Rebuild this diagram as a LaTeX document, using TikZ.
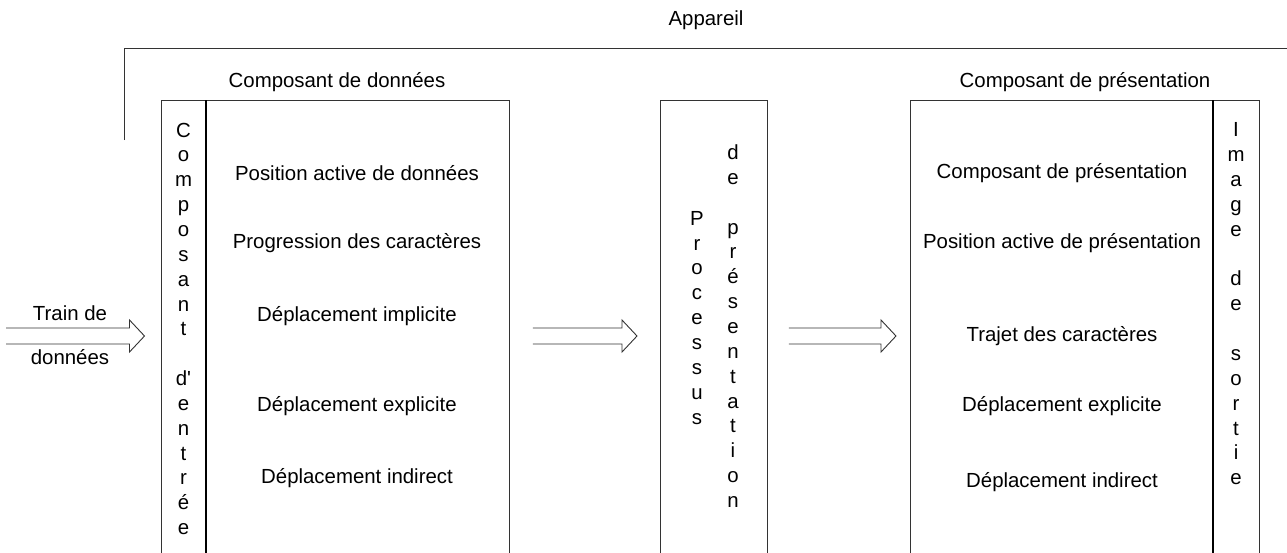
\documentclass[tikz,border=0pt]{standalone}
\usepackage{fontspec}
\setmainfont{Liberation Sans}
\usetikzlibrary{calc}

\tikzset{
  boite/.style={draw=black!80, line width=0.9pt, anchor=north west, inner sep=0pt},
  sep/.style={line width=1.6pt},
  txt/.style={font=\fontsize{20.4}{24.85}\selectfont, inner sep=0pt},
  vert/.style={txt, align=center, anchor=north},
  fleche/.style={draw=black!80, line width=0.9pt},
  hollow/.style={to path={
      ($(\tikztostart)+(0,-8)$) -- ($(\tikztotarget)+(-15,-8)$) -- ($(\tikztotarget)+(-15,-16)$)
      -- (\tikztotarget) -- ($(\tikztotarget)+(-15,16)$) -- ($(\tikztotarget)+(-15,8)$)
      -- ($(\tikztostart)+(0,8)$)}}
}

\begin{document}
\begin{tikzpicture}[x=1pt,y=-1pt]
	\path[use as bounding box, clip] (0,0) rectangle (1287,552);
	% appareil
	\node[txt] (appareil) at (706,20) {Appareil};
	\draw[draw=black!80, line width=0.9pt] (124,140) |- (1295,48);
	% les trois blocs
	\node[boite, minimum width=348.5, minimum height=470] (donnees) at (160.5,100) {};
	\node[boite, minimum width=107, minimum height=470] (processus) at (660,100) {};
	\node[boite, minimum width=349, minimum height=470] (presentation) at (910,100) {};
	\draw[sep] (206,100) -- (206,560);
	\draw[sep] (1213,100) -- (1213,560);
	\node[txt] (tdonnees) at (337,82) {Composant de données};
	\node[txt] (tpres) at (1085,82) {Composant de présentation};
	% colonnes verticales
	\node[vert] (entree) at (183.5,122.6) {C\\o\\m\\p\\o\\s\\a\\n\\t\\~\\d\textquotesingle\\e\\n\\t\\r\\é\\e};
	\node[vert] (proc) at (697,211) {P\\r\\o\\c\\e\\s\\s\\u\\s};
	\node[vert] (depres) at (733,144.6) {d\\e\\~\\p\\r\\é\\s\\e\\n\\t\\a\\t\\i\\o\\n};
	\node[vert] (sortie) at (1236,122.6) {I\\m\\a\\g\\e\\~\\d\\e\\~\\s\\o\\r\\t\\i\\e};
	% contenus
	\foreach \y/\t [count=\i] in {173/Position active de données,243/Progression des caractères,316/Déplacement implicite,406/Déplacement explicite,478/Déplacement indirect}
		\node[txt] (d\i) at (357,\y) {\t};
	\foreach \y/\t [count=\i] in {173/Composant de présentation,243/Position active de présentation,336/Trajet des caractères,406/Déplacement explicite,482/Déplacement indirect}
		\node[txt] (p\i) at (1062,\y) {\t};
	% flux
	\node[txt] (train1) at (70,313) {Train de};
	\node[txt] (train2) at (70,357) {données};
	\coordinate (trainA) at (6,336);
	\coordinate (trainB) at ($(donnees.north west)+(-16,236)$);
	\coordinate (f1a) at ($(donnees.north east)+(23,236)$);
	\coordinate (f1b) at ($(processus.north west)+(-23,236)$);
	\coordinate (f2a) at ($(processus.north east)+(21,236)$);
	\coordinate (f2b) at ($(presentation.north west)+(-14,236)$);
	\draw[fleche] (trainA) to[hollow] (trainB);
	\draw[fleche] (f1a) to[hollow] (f1b);
	\draw[fleche] (f2a) to[hollow] (f2b);
\end{tikzpicture}
\end{document}
